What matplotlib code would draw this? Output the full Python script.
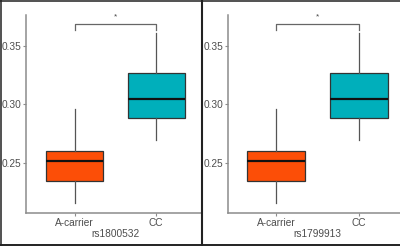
import matplotlib
matplotlib.use("Agg")
import matplotlib.pyplot as plt
from matplotlib.lines import Line2D

plt.rcParams['font.family'] = ['Liberation Sans', 'DejaVu Sans']

# DATA
groups = ['A-carrier', 'CC']
colors = ['#FC4E07', '#00AFBB']
snps = ['rs1800532', 'rs1799913']

# box stats per panel
whislo_1 = [0.2160, 0.2698]
q1_1 = [0.2349, 0.2883]
med_1 = [0.2522, 0.3049]
q3_1 = [0.2605, 0.3265]
whishi_1 = [0.2962, 0.3605]

whislo_2 = [0.2160, 0.2698]
q1_2 = [0.2349, 0.2883]
med_2 = [0.2522, 0.3049]
q3_2 = [0.2605, 0.3265]
whishi_2 = [0.2962, 0.3605]

sig_label = '*'
bracket_y = 0.3681
tip_y = 0.3632
yticks = [0.25, 0.30, 0.35]

W, H = 400, 246
fig = plt.figure(figsize=(W / 100, H / 100), dpi=100)

bottom = (H - 213) / H
height = (213 - 15) / H

panels = [
    dict(rect=[26 / W, bottom, (201 - 26) / W, height], xlim=(0.4, 2.55), labx=0.509,
         stats=(whislo_1, q1_1, med_1, q3_1, whishi_1), name=snps[0]),
    dict(rect=[228 / W, bottom, (400 - 228) / W, height], xlim=(0.42, 2.5), labx=0.517,
         stats=(whislo_2, q1_2, med_2, q3_2, whishi_2), name=snps[1]),
]

for p in panels:
    ax = fig.add_axes(p['rect'])
    lo, a, m, b, hi = p['stats']
    bstats = [dict(whislo=lo[i], q1=a[i], med=m[i], q3=b[i], whishi=hi[i], label=groups[i])
              for i in range(len(groups))]
    bp = ax.bxp(bstats, positions=[1, 2], widths=0.7, patch_artist=True,
                showfliers=False, showcaps=False,
                boxprops=dict(edgecolor='#333333', linewidth=0.9),
                whiskerprops=dict(color='#555555', linewidth=0.9),
                medianprops=dict(color='#111111', linewidth=1.6))
    for patch, c in zip(bp['boxes'], colors):
        patch.set_facecolor(c)

    # significance bracket
    ax.plot([1, 1, 2, 2], [tip_y, bracket_y, bracket_y, tip_y], color='#666666', lw=0.9)
    ax.text(1.5, bracket_y + 0.003, sig_label, ha='center', va='bottom',
            fontsize=6, color='#444444')

    ax.set_xlim(*p['xlim'])
    ax.set_ylim(0.2077, 0.3761)
    ax.set_yticks(yticks)
    ax.set_yticklabels(['%.2f' % v for v in yticks])
    ax.set_xticks([1, 2])
    ax.set_xticklabels(groups)
    for s in ['top', 'right']:
        ax.spines[s].set_visible(False)
    for s in ['left', 'bottom']:
        ax.spines[s].set_color('#8c8c8c')
        ax.spines[s].set_linewidth(1.1)
    ax.tick_params(length=2, width=0.8, color='#8c8c8c', labelsize=7.3,
                   labelcolor='#4d4d4d', pad=1.5)
    ax.set_xlabel(p['name'], fontsize=7.3, color='#4d4d4d')
    ax.xaxis.set_label_coords(p['labx'], -0.106)
    ax.xaxis.label.set_va('center')

# outer frame and divider
frame = dict(color='#222222', transform=fig.transFigure)
fig.add_artist(Line2D([0.5 / W, 0.5 / W], [0, 1], lw=1.1, **frame))
fig.add_artist(Line2D([0, 1], [1 - 0.5 / H, 1 - 0.5 / H], lw=1.1, **frame))
fig.add_artist(Line2D([0, 1], [1 / H, 1 / H], lw=1.4, **frame))
fig.add_artist(Line2D([202 / W, 202 / W], [0, 1], lw=1.5, **frame))

fig.savefig('out.png', dpi=100)
